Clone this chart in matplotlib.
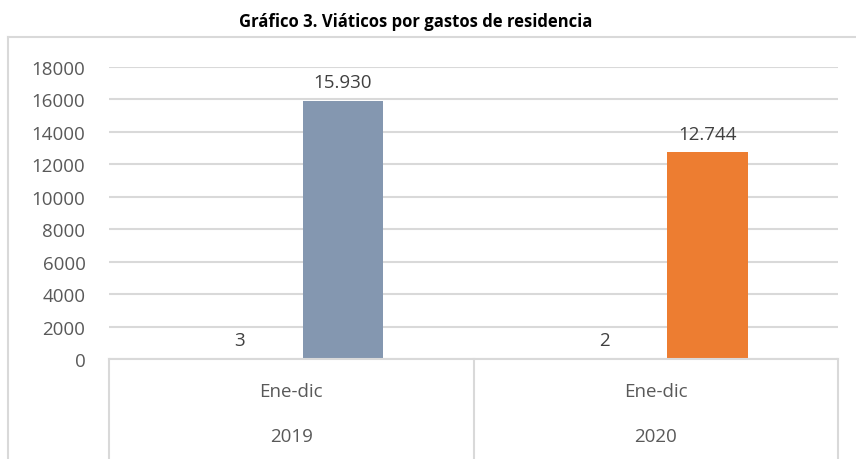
import matplotlib
matplotlib.use("Agg")
import matplotlib.pyplot as plt
import matplotlib.transforms as mtransforms
from matplotlib.lines import Line2D
import numpy as np

title = "Gráfico 3. Viáticos por gastos de residencia"
periods = ["Ene-dic", "Ene-dic"]
years = ["2019", "2020"]
small_values = [3, 2]
main_values = [15930, 12744]
main_colors = ["#8497B0", "#ED7D31"]
yticks = [0, 2000, 4000, 6000, 8000, 10000, 12000, 14000, 16000, 18000]

plt.rcParams['font.family'] = ['Open Sans', 'DejaVu Sans']

fig = plt.figure(figsize=(8.56, 4.6), dpi=100)
ax = fig.add_axes([109/856, 100/460, (838-109)/856, 292/460])

x = np.arange(len(years))
w = 0.222
off = 0.142
grid_c = "#D9D9D9"
txt_c = "#595959"
fs = 13.5

ax.set_ylim(0, 18000)
ax.set_xlim(-0.5, len(years) - 0.5)
ax.set_yticks(yticks)
ax.set_yticklabels([str(v) for v in yticks], color=txt_c, fontsize=fs)
ax.yaxis.grid(True, color=grid_c, lw=1.5)
ax.set_axisbelow(True)
ax.tick_params(axis='y', length=0, pad=17)
ax.tick_params(axis='x', length=0, labelbottom=False)
for s in ["top", "right", "left"]:
    ax.spines[s].set_visible(False)
ax.spines["bottom"].set_color(grid_c)
ax.spines["bottom"].set_linewidth(1.5)

b1 = ax.bar(x - off, small_values, w, color="#A5A5A5")
b2 = ax.bar(x + off, main_values, w, color=main_colors)

def fmt(v):
    return f"{v:,}".replace(",", ".")

for rect, v in zip(b1, small_values):
    ax.annotate(fmt(v), (rect.get_x() + rect.get_width()/2, v),
                xytext=(0, 7), textcoords="offset points",
                ha="center", va="bottom", fontsize=fs, color="#404040")
for rect, v in zip(b2, main_values):
    ax.annotate(fmt(v), (rect.get_x() + rect.get_width()/2, v),
                xytext=(0, 7), textcoords="offset points",
                ha="center", va="bottom", fontsize=fs, color="#404040")

# multi-level category axis
trans = mtransforms.blended_transform_factory(ax.transData, ax.transAxes)
for xb in np.arange(-0.5, len(years), 1.0):
    ax.add_line(Line2D([xb, xb], [0, -0.35], transform=trans, color=grid_c,
                       lw=1.5, clip_on=False))
for i in range(len(years)):
    ax.text(x[i], -0.11, periods[i], transform=trans, ha="center", va="center",
            fontsize=fs, color=txt_c)
    ax.text(x[i], -0.265, years[i], transform=trans, ha="center", va="center",
            fontsize=fs, color=txt_c)

# outer chart border
fig.add_artist(Line2D([8/856, 8/856], [0, 1 - 38/460], transform=fig.transFigure,
                      color=grid_c, lw=1.5))
fig.add_artist(Line2D([8/856, 1], [1 - 38/460, 1 - 38/460], transform=fig.transFigure,
                      color=grid_c, lw=1.5))

fig.text(416/856, 1 - 22/460, title, ha="center", va="center",
         fontsize=12, fontweight="bold", color="black")

fig.savefig("out.png", dpi=100)
